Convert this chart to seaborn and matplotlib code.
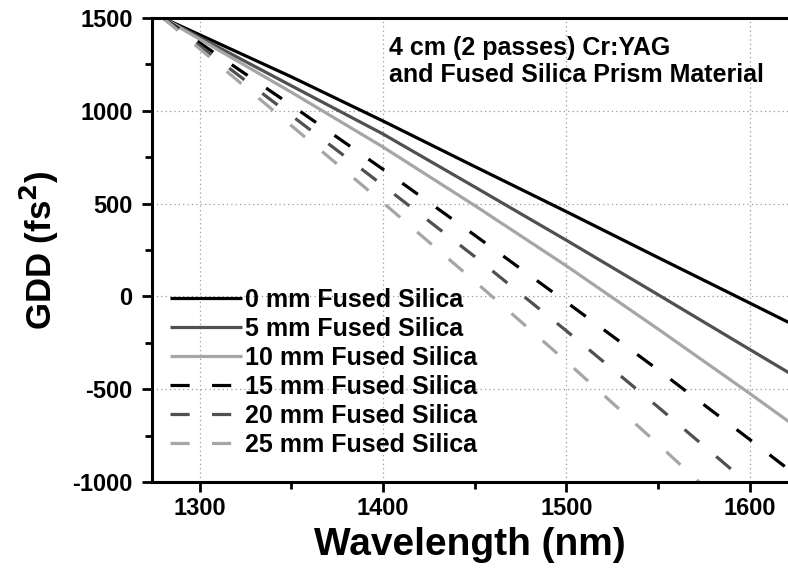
import matplotlib
matplotlib.use("Agg")
import matplotlib.pyplot as plt
import seaborn as sns
import pandas as pd
from matplotlib.ticker import MultipleLocator

# ---- data ----
wavelength = [1280, 1350, 1400, 1450, 1500, 1550, 1600, 1625]
gdd_0mm  = [1500, 1183, 945, 700, 457, 210, -35, -158]
gdd_5mm  = [1500, 1135, 875, 590, 303, 10, -285, -432]
gdd_10mm = [1500, 1100, 805, 490, 165, -175, -522, -700]
gdd_15mm = [1500, 1030, 685, 330, -30, -395, -770, -960]
gdd_20mm = [1500, 975, 598, 215, -185, -595, -1015, -1225]
gdd_25mm = [1500, 920, 505, 82, -350, -795, -1250, -1480]
labels = ["0 mm Fused Silica", "5 mm Fused Silica", "10 mm Fused Silica",
          "15 mm Fused Silica", "20 mm Fused Silica", "25 mm Fused Silica"]
series = [gdd_0mm, gdd_5mm, gdd_10mm, gdd_15mm, gdd_20mm, gdd_25mm]
annotation = "4 cm (2 passes) Cr:YAG\nand Fused Silica Prism Material"
x_ticks = [1300, 1400, 1500, 1600]
y_ticks = [-1000, -500, 0, 500, 1000, 1500]

colors = ["#000000", "#505050", "#a6a6a6", "#000000", "#505050", "#a6a6a6"]
dash_styles = [None, None, None, (6, 7), (6, 7), (6, 7)]

sns.set_theme(style="white")
plt.rcParams['font.family'] = ['Liberation Sans', 'DejaVu Sans']
plt.rcParams['axes.unicode_minus'] = False
plt.rcParams['text.color'] = 'black'
plt.rcParams['axes.labelcolor'] = 'black'
plt.rcParams['xtick.color'] = 'black'
plt.rcParams['ytick.color'] = 'black'

rows = []
for lab, vals in zip(labels, series):
    for w, v in zip(wavelength, vals):
        rows.append({"wavelength": w, "gdd": v, "sample": lab})
df = pd.DataFrame(rows)

fig = plt.figure(figsize=(7.88, 5.75), dpi=100)
ax = fig.add_axes([0.193, 0.1617, 0.807, 0.807])

for lab, col, ds in zip(labels, colors, dash_styles):
    sub = df[df["sample"] == lab]
    sns.lineplot(data=sub, x="wavelength", y="gdd", ax=ax, color=col,
                 linewidth=2.3, label=lab, sort=True)
    ln = ax.get_lines()[-1]
    if ds is not None:
        ln.set_dashes(ds)
    ln.set_solid_capstyle("butt")
    ln.set_dash_capstyle("butt")
    ln.set_solid_joinstyle("round")

ax.set_xlim(1274, 1621)
ax.set_ylim(-1000, 1500)
ax.set_xticks(x_ticks)
ax.set_yticks(y_ticks)
ax.xaxis.set_minor_locator(MultipleLocator(50))
ax.yaxis.set_minor_locator(MultipleLocator(250))

ax.grid(True, which="major", linestyle=(0, (1, 2.5)), color="#9a9a9a", linewidth=0.9)
ax.set_axisbelow(True)

for side in ["left", "bottom", "top"]:
    ax.spines[side].set_visible(True)
    ax.spines[side].set_linewidth(2.2)
    ax.spines[side].set_color("black")
ax.spines["right"].set_visible(False)

ax.tick_params(axis="both", which="major", direction="out", length=7, width=2,
               color="black", labelcolor="black", labelsize=17, bottom=True, left=True)
ax.tick_params(axis="y", which="major", pad=7)
ax.tick_params(axis="x", which="major", pad=4)
ax.tick_params(axis="both", which="minor", direction="out", length=5, width=2,
               color="black", bottom=True, left=True)
for lbl in ax.get_xticklabels() + ax.get_yticklabels():
    lbl.set_fontweight("bold")

ax.set_xlabel("Wavelength (nm)", fontsize=28, fontweight="bold", labelpad=5)
ax.set_ylabel("GDD (fs$^\\mathbf{2}$)", fontsize=25, fontweight="bold", labelpad=8)

ax.text(0.372, 0.962, annotation, transform=ax.transAxes, fontsize=18,
        fontweight="bold", ha="left", va="top", linespacing=1.18)

leg = ax.legend(loc="upper left", bbox_to_anchor=(0.012, 0.44), frameon=False,
                handlelength=2.9, handletextpad=0.1, labelspacing=0.2,
                borderaxespad=0, prop={"size": 18, "weight": "bold"})

fig.savefig("out.png", dpi=100)
